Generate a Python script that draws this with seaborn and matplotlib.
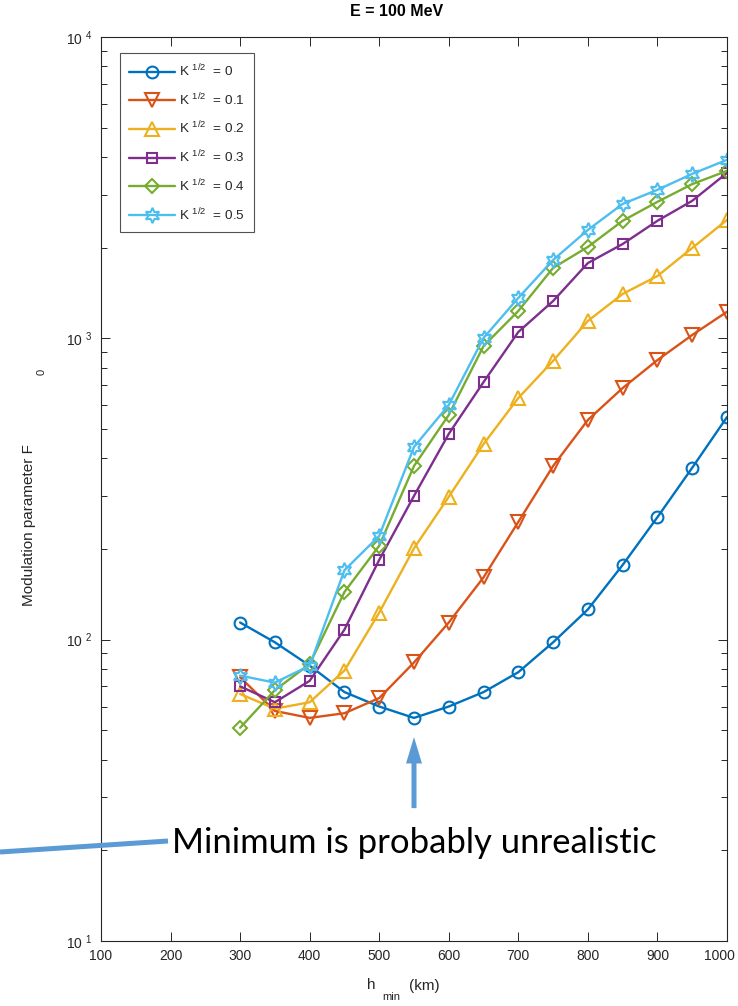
import matplotlib
matplotlib.use("Agg")
import matplotlib.pyplot as plt
from matplotlib.lines import Line2D
from matplotlib.transforms import ScaledTranslation
from matplotlib.ticker import FixedLocator, LogLocator, FuncFormatter, NullFormatter
import numpy as np
import pandas as pd
import seaborn as sns

# Minimum altitude of the trajectory (km)
h_min = [300, 350, 400, 450, 500, 550, 600, 650, 700, 750, 800, 850, 900, 950, 1000]

# Modulation parameter F0 for each K^{1/2}
F_k00 = [114, 98, 82, 67, 60, 55, 60, 67, 78, 98, 126, 177, 255, 372, 548]
F_k01 = [75, 58, 55, 57, 64, 84, 114, 161, 246, 377, 536, 684, 847, 1026, 1225]
F_k02 = [66, 59, 62, 79, 123, 201, 298, 446, 634, 842, 1142, 1404, 1610, 1995, 2472]
F_k03 = [70, 62, 73, 108, 184, 300, 482, 716, 1050, 1330, 1778, 2056, 2455, 2860, 3540]
F_k04 = [51, 68, 83, 144, 205, 377, 557, 943, 1233, 1713, 2011, 2455, 2838, 3250, 3596]
F_k05 = [76, 72, 82, 170, 221, 436, 601, 1003, 1362, 1820, 2290, 2793, 3110, 3514, 3911]

k_values = ["0", "0.1", "0.2", "0.3", "0.4", "0.5"]
series = [F_k00, F_k01, F_k02, F_k03, F_k04, F_k05]
colors = ["#0072BD", "#D95319", "#EDB120", "#7E2F8E", "#77AC30", "#4DBEEE"]
markers = ["o", "v", "^", "s", "D", (6, 1, 0)]
marker_sizes = [8.5, 9.5, 9.5, 7.5, 7.5, 11]

x_ticks = [100, 200, 300, 400, 500, 600, 700, 800, 900, 1000]
y_ticks = [10, 100, 1000, 10000]

legend_labels = [r"K $^{1/2}$  = " + k for k in k_values]

df = pd.DataFrame({
    "h": np.tile(h_min, len(k_values)),
    "F": np.concatenate(series),
    "K": np.repeat(k_values, len(h_min)),
})

sns.set_style("ticks")
plt.rcParams["font.family"] = ["Liberation Sans", "DejaVu Sans"]
plt.rcParams["mathtext.fontset"] = "custom"
plt.rcParams["mathtext.rm"] = "Liberation Sans"
plt.rcParams["mathtext.it"] = "Liberation Sans:italic"
plt.rcParams["mathtext.bf"] = "Liberation Sans:bold"

ink = "#262626"

fig = plt.figure(figsize=(7.38, 10.06), dpi=100)
ax = fig.add_axes([101 / 738, 65 / 1006, 626 / 738, 904 / 1006])

sns.lineplot(data=df, x="h", y="F", hue="K", style="K", hue_order=k_values,
             style_order=k_values, palette=colors, markers=markers, dashes=False,
             linewidth=1.7, legend=False, ax=ax)

for line, c, ms in zip(ax.lines, colors, marker_sizes):
    line.set_markerfacecolor("none")
    line.set_markeredgecolor(c)
    line.set_markeredgewidth(1.5)
    line.set_markersize(ms)

ax.set_yscale("log")
ax.set_xlim(100, 1000)
ax.set_ylim(10, 10000)
ax.xaxis.set_major_locator(FixedLocator(x_ticks))
ax.yaxis.set_major_locator(FixedLocator(y_ticks))
ax.yaxis.set_minor_locator(LogLocator(base=10, subs=np.arange(2, 10)))
ax.yaxis.set_minor_formatter(NullFormatter())
ax.yaxis.set_major_formatter(FuncFormatter(lambda v, p: r"10 $^{%d}$" % round(np.log10(v))))
ax.set_xlabel("")
ax.set_ylabel("")

for s in ax.spines.values():
    s.set_visible(True)
    s.set_color(ink)
    s.set_linewidth(0.8)
ax.tick_params(which="both", direction="in", top=True, right=True, color=ink,
               labelcolor=ink, labelsize=10, width=0.7)
ax.tick_params(which="major", length=6.5, pad=6)
ax.tick_params(which="minor", length=4)

# keep the last x tick label inside the figure
fig.canvas.draw()
last = ax.get_xticklabels()[-1]
last.set_transform(last.get_transform() + ScaledTranslation(-8 / 100, 0, fig.dpi_scale_trans))

leg = ax.legend(ax.lines, legend_labels, loc="upper left", bbox_to_anchor=(0.03, 0.982),
                borderaxespad=0, fontsize=9.7, handlelength=3.4, handletextpad=0.3,
                labelspacing=0.9, frameon=True, fancybox=False, borderpad=0.7)
leg.get_frame().set_edgecolor(ink)
leg.get_frame().set_linewidth(0.8)

# Title and axis labels
fig.text(397 / 738, 1 - 12 / 1006, "E = 100 MeV", ha="center", va="center",
         fontsize=11.5, fontweight="bold", color="black")
fig.text(29 / 738, 1 - 525 / 1006, "Modulation parameter F", rotation=90,
         ha="center", va="center", fontsize=11, color=ink)
fig.text(42 / 738, 1 - 372 / 1006, "0", rotation=90, ha="center", va="center",
         fontsize=8, color=ink)
fig.text(371 / 738, 1 - 985 / 1006, "h", ha="center", va="center", fontsize=11, color=ink)
fig.text(391 / 738, 1 - 997 / 1006, "min", ha="center", va="center", fontsize=8, color=ink)
fig.text(424 / 738, 1 - 986 / 1006, "(km)", ha="center", va="center", fontsize=11, color=ink)

# Annotation: arrow pointing at the K=0 minimum and a pointer line
note_color = "#5B9BD5"
ax.annotate("", xy=(550, 47.5), xytext=(550, 27.6), xycoords="data",
            arrowprops=dict(width=3.6, headwidth=11.5, headlength=19, shrink=0,
                            color=note_color, linewidth=0))
fig.add_artist(Line2D([0, 168 / 738], [1 - 852 / 1006, 1 - 841 / 1006],
                      transform=fig.transFigure, color=note_color, linewidth=3.6,
                      solid_capstyle="butt"))
note = fig.text(172 / 738, 1 - 853 / 1006, "Minimum is probably unrealistic",
                ha="left", va="baseline", fontsize=24, family="Lato", color="black")
fig.canvas.draw()
w = note.get_window_extent().width
note.set_fontsize(24 * 485 / w)

fig.savefig("out.png", dpi=100)
